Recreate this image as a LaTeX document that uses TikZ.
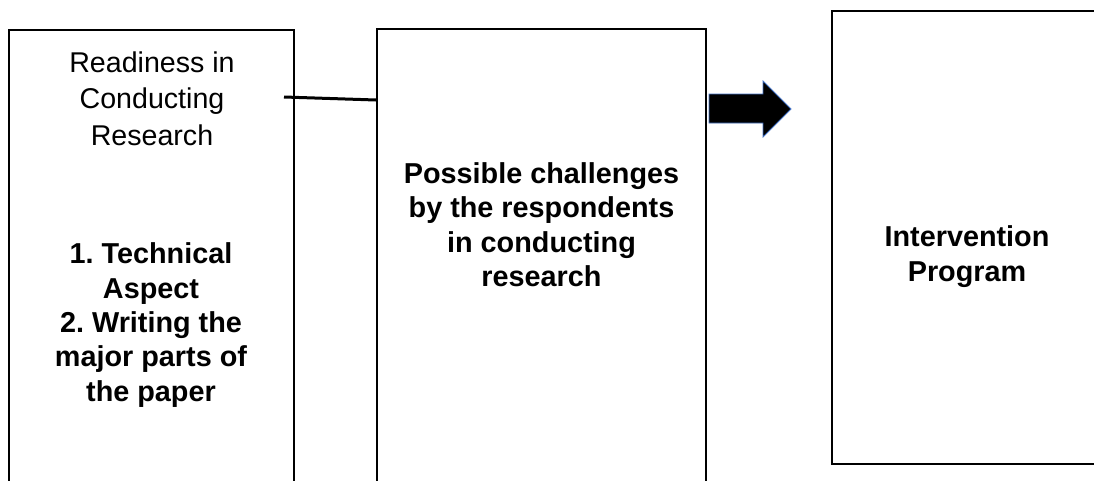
\documentclass[tikz,border=0pt]{standalone}
\usepackage{fontspec}
\setmainfont{Liberation Sans}
\definecolor{arrowblue}{HTML}{4472C4}
\begin{document}
\frenchspacing
\begin{tikzpicture}[x=1pt,y=-1pt,
  boxstyle/.style={draw=black,line width=2pt,inner sep=0pt},
  regtext/.style={align=center,inner sep=0pt,font=\fontsize{28.6}{36.3}\selectfont},
  boldtext/.style={align=center,inner sep=0pt,font=\fontsize{28.8}{34.4}\selectfont\bfseries}]
\useasboundingbox (0,0) rectangle (1094,480);
\clip (0,0) rectangle (1094,480);
% boxes
\node[boxstyle,minimum width=285pt,minimum height=460pt] (box1) at (151.5,260) {};
\node[boxstyle,minimum width=329pt,minimum height=462pt] (box2) at (541.5,260) {};
\node[boxstyle,minimum width=268pt,minimum height=453pt] (box3) at (966,237) {};
% texts
\node[regtext] (ready) at (152,98.5) {Readiness in\\Conducting\\Research};
\node[boldtext] (aspects) at (151,325) {1. Technical\\Aspect\\2. Writing the\\major parts of\\the paper};
\node[boldtext] (chall) at (541.5,224.5) {Possible challenges\\by the respondents\\in conducting\\research};
\node[boldtext] (interv) at (967,256.5) {Intervention\\Program};
% connector line
\coordinate (lstart) at (284,97);
\draw[line width=3pt] (lstart) -- (box2.west |- 0,100);
% block arrow
\draw[draw=arrowblue,line width=0.8pt,fill=black]
  (709,94) -- (763,94) -- (763,81) -- (791,109) -- (763,137) -- (763,123) -- (709,123) -- cycle;
\end{tikzpicture}
\end{document}
